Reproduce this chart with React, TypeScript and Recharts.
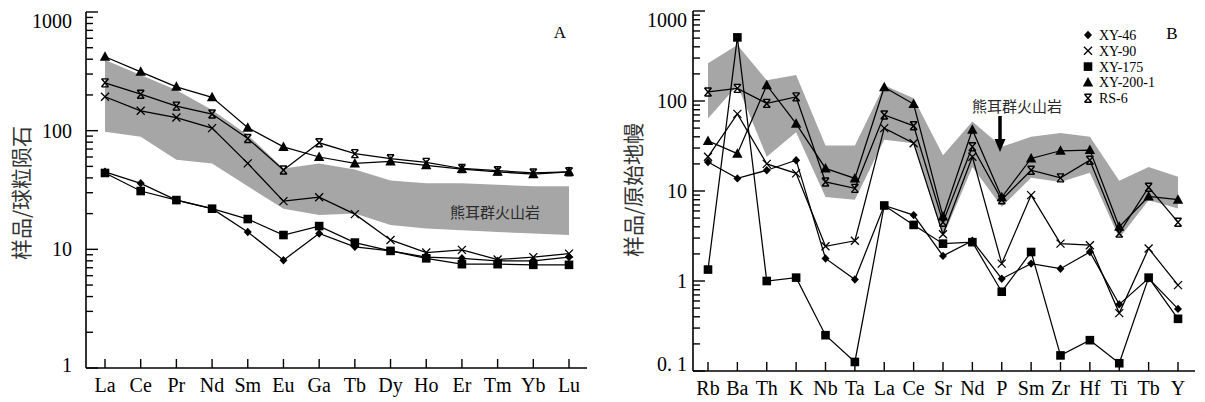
import React from "react";
import { ComposedChart, Line, Area, XAxis, YAxis } from "recharts";

// ---- panel A: REE, chondrite normalised ----
const reeElements = ["La", "Ce", "Pr", "Nd", "Sm", "Eu", "Ga", "Tb", "Dy", "Ho", "Er", "Tm", "Yb", "Lu"];
const reeXY46 = [45, 36, 26, 22, 14, 8.1, 13.6, 10.5, 9.7, 8.6, 8.4, 8.0, 8.0, 8.6];
const reeXY90 = [193, 147, 129, 105, 53, 25.5, 27.5, 19.8, 12, 9.4, 9.9, 8.2, 8.6, 9.2];
const reeXY175 = [44, 31, 26, 22, 18, 13.2, 15.7, 11.4, 9.7, 8.4, 7.5, 7.5, 7.4, 7.4];
const reeXY200 = [420, 313, 234, 191, 106, 73, 60, 53, 55, 51, 47.5, 45, 43, 45];
const reeRS6 = [253, 203, 161, 138, 86, 46.6, 79, 64, 58, 54, 48, 46, 44, 45];
const reeBandLow = [98, 89, 57, 53, 34, 22, 19.5, 20, 16, 15, 14.5, 14, 13.6, 13.2];
const reeBandHigh = [394, 294, 220, 149, 92, 48, 53, 47, 38, 36, 36, 35, 34, 34];

// ---- panel B: trace elements, primitive mantle normalised ----
const traceElements = ["Rb", "Ba", "Th", "K", "Nb", "Ta", "La", "Ce", "Sr", "Nd", "P", "Sm", "Zr", "Hf", "Ti", "Tb", "Y"];
const trXY46 = [21, 13.8, 17, 22, 1.78, 1.04, 6.9, 5.4, 1.9, 2.8, 1.06, 1.56, 1.37, 2.1, 0.55, 1.07, 0.49];
const trXY90 = [24, 72, 20, 15.7, 2.43, 2.8, 50, 34, 3.3, 24, 1.56, 9, 2.6, 2.5, 0.44, 2.3, 0.9];
const trXY175 = [1.34, 509, 1.0, 1.09, 0.25, 0.126, 6.9, 4.2, 2.6, 2.7, 0.76, 2.1, 0.149, 0.22, 0.122, 1.09, 0.38];
const trXY200 = [36, 26, 150, 56, 17.8, 13.8, 142, 92.5, 5.2, 48, 8.5, 23, 28, 28.5, 4.0, 8.7, 8.0];
const trRS6 = [126, 138, 94, 111, 12.6, 10.7, 70, 53, 4.5, 31, 8, 17, 14, 22, 3.4, 11, 4.5];
const trBandLow = [64, 150, 24, 45, 8.6, 8, 37, 34, 3.1, 18.5, 6.7, 14, 12.6, 16, 3.0, 7.9, 6.4];
const trBandHigh = [262, 419, 170, 194, 32, 32, 150, 107, 25, 59, 31, 40, 44, 40, 13, 18.5, 14.4];

const sampleNames = ["XY-46", "XY-90", "XY-175", "XY-200-1", "RS-6"];

const decadeTicks = (lo: number, hi: number) => {
  const t: number[] = [];
  for (let e = lo; e < hi; e++) {
    for (let k = 1; k < 10; k++) t.push(Number((k * Math.pow(10, e)).toPrecision(3)));
  }
  t.push(Math.pow(10, hi));
  return t;
};
const ticksA = decadeTicks(0, 3);
const ticksB = decadeTicks(-1, 3);

const INK = "#000";
const SERIF = "'Liberation Serif', 'DejaVu Serif', serif";
const CJK = "'Noto Sans CJK SC', sans-serif";

const isMajor = (v: number) => {
  const lg = Math.log10(v);
  return Math.abs(lg - Math.round(lg)) < 1e-6;
};

// plot boxes (page px) shared by the charts and the inner tick marks
const boxA = { left: 86, right: 587, top: 12, bottom: 368, padL: 19, padR: 18, lo: 0, hi: 3 };
const boxB = { left: 693, right: 1195, top: 11, bottom: 371, padL: 15, padR: 17, lo: -1, hi: 3 };

const Diamond = ({ cx, cy }: any) => (
  <path d={`M${cx},${cy - 4.2} L${cx + 4},${cy} L${cx},${cy + 4.2} L${cx - 4},${cy} Z`} fill={INK} />
);
const Cross = ({ cx, cy }: any) => (
  <path d={`M${cx - 4},${cy - 4} L${cx + 4},${cy + 4} M${cx + 4},${cy - 4} L${cx - 4},${cy + 4}`} stroke={INK} strokeWidth={1.3} fill="none" />
);
const Square = ({ cx, cy }: any) => <rect x={cx - 4.3} y={cy - 4.3} width={8.6} height={8.6} fill={INK} />;
const Triangle = ({ cx, cy }: any) => (
  <path d={`M${cx},${cy - 5.5} L${cx + 5.2},${cy + 4} L${cx - 5.2},${cy + 4} Z`} fill={INK} />
);
const Star = ({ cx, cy }: any) => (
  <path
    d={`M${cx - 3.5},${cy - 4} L${cx + 3.5},${cy + 4} M${cx + 3.5},${cy - 4} L${cx - 3.5},${cy + 4} M${cx - 3.5},${cy - 4} L${cx + 3.5},${cy - 4} M${cx - 3.5},${cy + 4} L${cx + 3.5},${cy + 4}`}
    stroke={INK}
    strokeWidth={1.4}
    fill="none"
  />
);
const markers = [Diamond, Cross, Square, Triangle, Star];

const dotFor = (M: any, name: string) => (p: any) => <M key={`${name}-${p.index}`} cx={p.cx} cy={p.cy} />;

const yTick = (gap: number, edgeShift: (v: number) => number) => (props: any) => {
  const { x, y, payload } = props;
  const v = payload.value;
  if (!isMajor(v)) return <g />;
  const label = v < 1 ? "0. 1" : String(Math.round(v));
  return (
    <text x={x - gap} y={y + edgeShift(v)} dy={7} textAnchor="end" fontFamily={SERIF} fontSize={20} fill={INK}>
      {label}
    </text>
  );
};

const xTick = (dy: number) => (props: any) => {
  const { x, y, payload } = props;
  return (
    <text x={x} y={y + dy} textAnchor="middle" fontFamily={SERIF} fontSize={20} fill={INK}>
      {payload.value}
    </text>
  );
};

const InnerTicks = ({ box, ticks, cats }: any) => {
  const yOf = (v: number) => box.bottom - ((Math.log10(v) - box.lo) / (box.hi - box.lo)) * (box.bottom - box.top);
  const x0 = box.left + box.padL;
  const step = (box.right - box.padR - x0) / (cats.length - 1);
  return (
    <g stroke={INK} strokeWidth={1.4}>
      {ticks.map((v: number) => (
        <line key={`y${v}`} x1={box.left} x2={box.left + (isMajor(v) ? 12 : 7)} y1={yOf(v)} y2={yOf(v)} />
      ))}
      {cats.map((c: string, i: number) => (
        <line key={`x${c}${i}`} x1={x0 + i * step} x2={x0 + i * step} y1={box.bottom} y2={box.bottom - 9} />
      ))}
    </g>
  );
};

const buildRows = (els: string[], lo: number[], hi: number[], series: number[][]) =>
  els.map((el, i) => {
    const row: any = { el, band: [lo[i], hi[i]] };
    sampleNames.forEach((n, j) => (row[n] = series[j][i]));
    return row;
  });

const dataA = buildRows(reeElements, reeBandLow, reeBandHigh, [reeXY46, reeXY90, reeXY175, reeXY200, reeRS6]);
const dataB = buildRows(traceElements, trBandLow, trBandHigh, [trXY46, trXY90, trXY175, trXY200, trRS6]);

const Panel = ({ data, width, yWidth, top, right, xHeight, domain, ticks, pad, yGap, edge, xdy }: any) => (
  <ComposedChart width={width} height={402} data={data} margin={{ top, right, bottom: 0, left: 0 }}>
    <XAxis
      dataKey="el"
      scale="point"
      padding={pad}
      interval={0}
      height={xHeight}
      tickSize={0}
      tickMargin={0}
      tickLine={false}
      axisLine={{ stroke: INK, strokeWidth: 1.6 }}
      tick={xTick(xdy)}
    />
    <XAxis xAxisId="top" orientation="top" dataKey="el" height={0} tick={false} tickLine={false} axisLine={{ stroke: INK, strokeWidth: 1.6 }} />
    <YAxis
      scale="log"
      type="number"
      domain={domain}
      allowDataOverflow
      ticks={ticks}
      interval={0}
      width={yWidth}
      tickSize={0}
      tickMargin={0}
      tickLine={false}
      axisLine={{ stroke: INK, strokeWidth: 1.6 }}
      tick={yTick(yGap, edge)}
    />
    <YAxis yAxisId="right" orientation="right" width={0} tick={false} tickLine={false} axisLine={{ stroke: INK, strokeWidth: 1.6 }} />
    <Area dataKey="band" type="linear" stroke="none" fill="#a6a6a6" fillOpacity={1} isAnimationActive={false} activeDot={false} />
    {sampleNames.map((n, j) => (
      <Line
        key={n}
        dataKey={n}
        type="linear"
        stroke={INK}
        strokeWidth={1.25}
        dot={dotFor(markers[j], n)}
        activeDot={false}
        isAnimationActive={false}
      />
    ))}
  </ComposedChart>
);

export default function App() {
  return (
    <div style={{ position: "absolute", left: 0, top: 0, width: 1205, height: 402, background: "#fff" }}>
      <div style={{ position: "absolute", left: 0, top: 0 }}>
        <Panel
          data={dataA}
          width={600}
          yWidth={boxA.left}
          top={boxA.top}
          right={600 - boxA.right}
          xHeight={402 - boxA.bottom}
          domain={[1, 1000]}
          ticks={ticksA}
          pad={{ left: boxA.padL, right: boxA.padR }}
          yGap={14}
          edge={(v: number) => (v === 1000 ? 9 : v === 1 ? -3 : 0)}
          xdy={24}
        />
      </div>
      <div style={{ position: "absolute", left: 600, top: 0 }}>
        <Panel
          data={dataB}
          width={605}
          yWidth={boxB.left - 600}
          top={boxB.top}
          right={1205 - boxB.right}
          xHeight={402 - boxB.bottom}
          domain={[0.1, 1000]}
          ticks={ticksB}
          pad={{ left: boxB.padL, right: boxB.padR }}
          yGap={6}
          edge={(v: number) => (v === 1000 ? 9 : v < 1 ? -7 : 0)}
          xdy={24}
        />
      </div>
      <svg width={1205} height={402} style={{ position: "absolute", left: 0, top: 0, pointerEvents: "none" }}>
        <InnerTicks box={boxA} ticks={ticksA} cats={reeElements} />
        <InnerTicks box={boxB} ticks={ticksB} cats={traceElements} />
        <text transform="translate(29,193) rotate(-90)" textAnchor="middle" fontFamily={CJK} fontSize={21} fill="#333">
          样品/球粒陨石
        </text>
        <text transform="translate(641,190) rotate(-90)" textAnchor="middle" fontFamily={CJK} fontSize={21} fill="#333">
          样品/原始地幔
        </text>
        <text x={495} y={218} textAnchor="middle" fontFamily={CJK} fontSize={15} fill="#2a2a2a">
          熊耳群火山岩
        </text>
        <text x={1017} y={112} textAnchor="middle" fontFamily={CJK} fontSize={15} fill="#2a2a2a">
          熊耳群火山岩
        </text>
        <line x1={1000} x2={1000} y1={116} y2={141} stroke={INK} strokeWidth={3.5} />
        <path d="M994.5,139 L1005.5,139 L1000,152 Z" fill={INK} />
        <text x={560} y={38} textAnchor="middle" fontFamily={SERIF} fontSize={17} fill={INK}>
          A
        </text>
        <text x={1172} y={39} textAnchor="middle" fontFamily={SERIF} fontSize={17} fill={INK}>
          B
        </text>
        {sampleNames.map((n, j) => {
          const M = markers[j];
          const y = 35 + j * 15.8;
          return (
            <g key={n}>
              <M cx={1088} cy={y} />
              <text x={1099} y={y + 5} fontFamily={SERIF} fontSize={14} fill={INK}>
                {n}
              </text>
            </g>
          );
        })}
      </svg>
    </div>
  );
}
